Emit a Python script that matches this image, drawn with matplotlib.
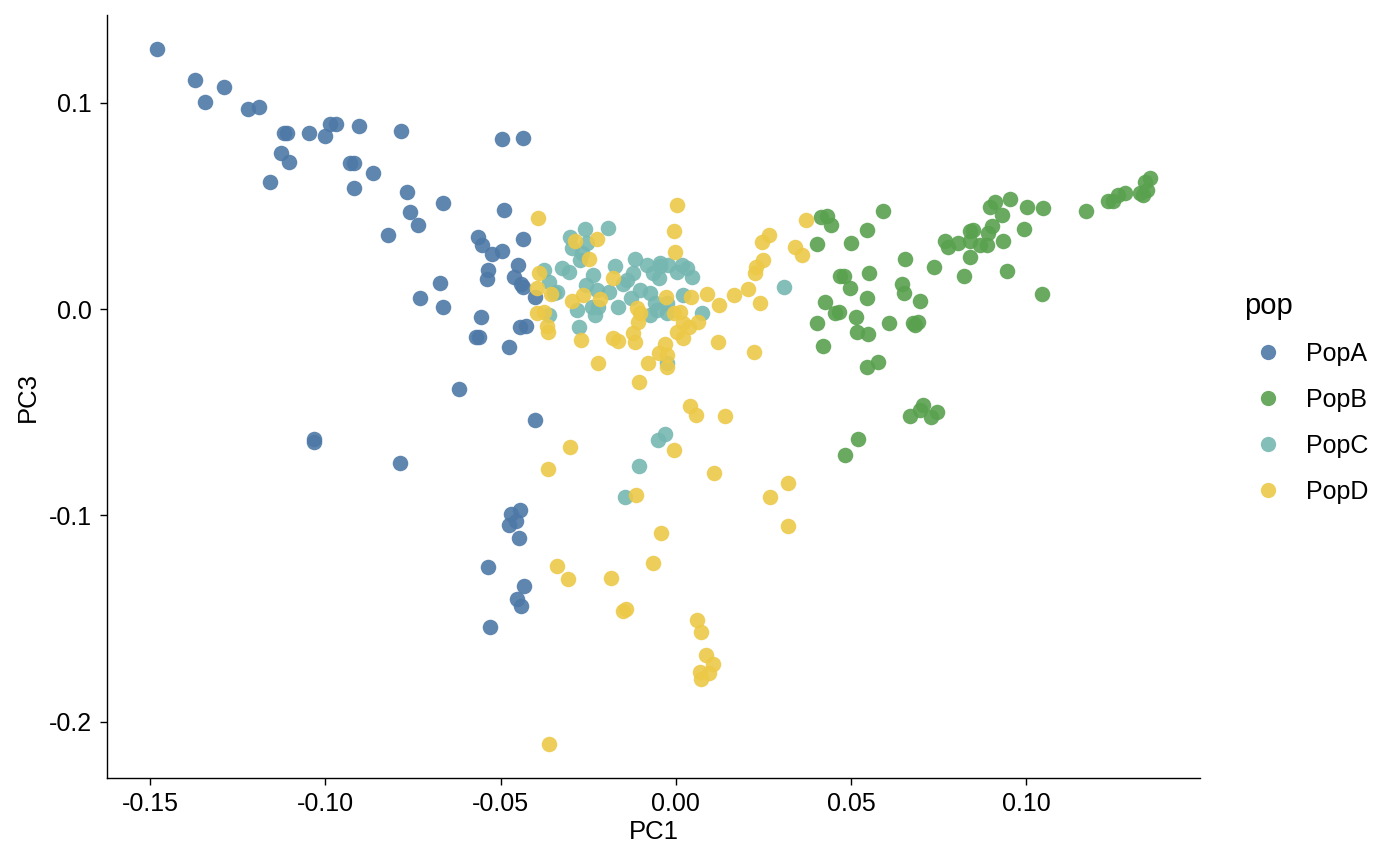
import matplotlib
matplotlib.use("Agg")
import matplotlib.pyplot as plt
from matplotlib.lines import Line2D

plt.rcParams['font.family'] = ['Liberation Sans', 'DejaVu Sans']

# PCA scores (PC1, PC3) per population
popA_pc1 = [-0.1480, -0.1372, -0.1344, -0.1289, -0.1221, -0.1189, -0.1118, -0.1110, -0.1047, -0.1001,
            -0.0987, -0.0970, -0.0904, -0.0784, -0.1127, -0.1104, -0.1159, -0.0930, -0.0918, -0.0864,
            -0.0918, -0.0768, -0.0759, -0.0736, -0.0822, -0.0665, -0.0496, -0.0436, -0.0491, -0.0565,
            -0.0553, -0.0525, -0.0496, -0.0436, -0.0537, -0.0539, -0.0450, -0.0462, -0.0436, -0.0402,
            -0.0442, -0.0673, -0.0730, -0.0665, -0.0556, -0.0570, -0.0562, -0.0445, -0.0428, -0.0477,
            -0.0619, -0.1032, -0.1032, -0.0787, -0.0402, -0.0445, -0.0471, -0.0456, -0.0477, -0.0448,
            -0.0537, -0.0434, -0.0453, -0.0442, -0.0531]
popA_pc3 = [0.1260, 0.1110, 0.1003, 0.1076, 0.0969, 0.0979, 0.0853, 0.0853, 0.0853, 0.0839,
            0.0897, 0.0897, 0.0887, 0.0863, 0.0756, 0.0713, 0.0616, 0.0708, 0.0708, 0.0659,
            0.0587, 0.0567, 0.0470, 0.0407, 0.0359, 0.0514, 0.0824, 0.0829, 0.0480, 0.0349,
            0.0310, 0.0267, 0.0281, 0.0339, 0.0189, 0.0145, 0.0213, 0.0155, 0.0107, 0.0058,
            0.0121, 0.0126, 0.0053, 0.0010, -0.0039, -0.0136, -0.0136, -0.0087, -0.0082, -0.0184,
            -0.0388, -0.0630, -0.0645, -0.0746, -0.0538, -0.0974, -0.0994, -0.1028, -0.1047, -0.1110,
            -0.1251, -0.1343, -0.1406, -0.1440, -0.1541]

popB_pc1 = [0.0414, 0.0431, 0.0442, 0.0403, 0.0499, 0.0545, 0.0591, 0.0468, 0.0479, 0.0550,
            0.0496, 0.0545, 0.0425, 0.0454, 0.0465, 0.0403, 0.0514, 0.0517, 0.0548, 0.0419,
            0.0607, 0.0645, 0.0650, 0.0653, 0.0696, 0.0676, 0.0691, 0.0681, 0.0736, 0.0767,
            0.0776, 0.0805, 0.0822, 0.0838, 0.0838, 0.0847, 0.0838, 0.0867, 0.0887, 0.0890,
            0.0901, 0.0895, 0.0909, 0.0930, 0.0933, 0.0952, 0.0944, 0.0993, 0.1001, 0.1047,
            0.1044, 0.1170, 0.1232, 0.1246, 0.1261, 0.1281, 0.1324, 0.1332, 0.1343, 0.1338,
            0.1352, 0.0577, 0.0545, 0.0705, 0.0696, 0.0667, 0.0727, 0.0745, 0.0519, 0.0482]
popB_pc3 = [0.0446, 0.0451, 0.0407, 0.0315, 0.0320, 0.0383, 0.0475, 0.0160, 0.0160, 0.0175,
            0.0102, 0.0053, 0.0034, -0.0019, -0.0015, -0.0068, -0.0039, -0.0111, -0.0121, -0.0179,
            -0.0068, 0.0121, 0.0078, 0.0242, 0.0039, -0.0068, -0.0063, -0.0078, 0.0204, 0.0330,
            0.0301, 0.0320, 0.0160, 0.0252, 0.0378, 0.0383, 0.0330, 0.0310, 0.0310, 0.0368,
            0.0402, 0.0494, 0.0519, 0.0456, 0.0330, 0.0533, 0.0184, 0.0388, 0.0494, 0.0490,
            0.0073, 0.0475, 0.0524, 0.0524, 0.0553, 0.0562, 0.0562, 0.0553, 0.0577, 0.0616,
            0.0635, -0.0257, -0.0281, -0.0465, -0.0490, -0.0519, -0.0524, -0.0499, -0.0630, -0.0708]

popC_pc1 = [-0.0303, -0.0260, -0.0194, -0.0254, -0.0297, -0.0274, -0.0325, -0.0305, -0.0377, -0.0363,
            -0.0339, -0.0363, -0.0282, -0.0276, -0.0257, -0.0237, -0.0225, -0.0191, -0.0174, -0.0151,
            -0.0231, -0.0222, -0.0165, -0.0129, -0.0123, -0.0117, -0.0083, -0.0066, -0.0048, -0.0045,
            -0.0023, 0.0003, 0.0031, 0.0045, -0.0103, -0.0074, -0.0059, -0.0074, -0.0026, -0.0026,
            0.0020, 0.0074, -0.0026, 0.0308, -0.0031, -0.0051, -0.0105, -0.0146, -0.0268, -0.0348,
            -0.0140, 0.0017, -0.0045, -0.0054, -0.0240]
popC_pc3 = [0.0349, 0.0388, 0.0393, 0.0320, 0.0296, 0.0238, 0.0199, 0.0179, 0.0189, 0.0131,
            0.0082, -0.0029, -0.0005, -0.0087, 0.0116, 0.0165, 0.0092, 0.0082, 0.0208, 0.0121,
            -0.0029, 0.0010, 0.0010, 0.0053, 0.0175, 0.0242, 0.0213, 0.0175, 0.0150, 0.0208,
            0.0213, 0.0179, 0.0199, 0.0155, 0.0092, 0.0078, 0.0029, -0.0029, 0.0029, -0.0019,
            0.0068, -0.0019, -0.0262, 0.0107, -0.0606, -0.0635, -0.0761, -0.0911, 0.0271, 0.0078,
            0.0141, 0.0213, 0.0223, -0.0005, 0.0010]

popD_pc1 = [-0.0393, -0.0288, -0.0225, -0.0248, -0.0391, -0.0357, -0.0396, -0.0396, -0.0377, -0.0368,
            -0.0365, -0.0271, -0.0222, -0.0180, -0.0265, -0.0217, -0.0297, -0.0180, -0.0165, -0.0123,
            -0.0117, -0.0108, -0.0103, -0.0105, -0.0080, -0.0048, -0.0031, -0.0026, -0.0026, -0.0006,
            0.0012, 0.0020, 0.0037, 0.0020, 0.0003, 0.0042, 0.0088, 0.0123, 0.0120, 0.0165,
            0.0205, 0.0003, -0.0006, -0.0002, -0.0029, 0.0063, 0.0371, 0.0265, 0.0245, 0.0340,
            0.0360, 0.0248, 0.0229, 0.0226, 0.0240, 0.0223, 0.0040, 0.0057, 0.0140, -0.0303,
            -0.0365, -0.0006, 0.0109, 0.0319, 0.0268, 0.0319, -0.0114, -0.0043, -0.0066, -0.0339,
            -0.0308, -0.0186, -0.0151, -0.0143, 0.0060, 0.0071, 0.0085, 0.0105, 0.0069, 0.0094,
            0.0071, -0.0363, -0.0111]
popD_pc3 = [0.0441, 0.0330, 0.0339, 0.0242, 0.0175, 0.0073, 0.0102, -0.0019, -0.0015, -0.0082,
            -0.0111, -0.0150, -0.0262, 0.0150, 0.0068, 0.0048, 0.0039, -0.0141, -0.0155, -0.0116,
            -0.0160, -0.0063, -0.0019, -0.0354, -0.0262, -0.0213, -0.0170, -0.0223, -0.0281, -0.0019,
            -0.0015, -0.0068, -0.0087, -0.0141, -0.0111, 0.0058, 0.0073, 0.0019, -0.0160, 0.0068,
            0.0097, 0.0504, 0.0378, 0.0276, 0.0058, -0.0063, 0.0431, 0.0359, 0.0325, 0.0301,
            0.0262, 0.0238, 0.0204, 0.0175, 0.0029, -0.0208, -0.0470, -0.0514, -0.0519, -0.0669,
            -0.0776, -0.0683, -0.0795, -0.0843, -0.0911, -0.1052, -0.0902, -0.1086, -0.1231, -0.1246,
            -0.1309, -0.1304, -0.1464, -0.1454, -0.1508, -0.1566, -0.1677, -0.1721, -0.1760, -0.1764,
            -0.1793, -0.2109, 0.0005]

pops = ["PopA", "PopB", "PopC", "PopD"]
colors = ["#4E79A7", "#59A14F", "#76B7B2", "#EDC948"]
x_ticks = [-0.15, -0.10, -0.05, 0.00, 0.05, 0.10]
y_ticks = [-0.2, -0.1, 0.0, 0.1]

fig = plt.figure(figsize=(14, 8.65), dpi=100)
ax = fig.add_axes([107 / 1400, 1 - 778 / 865, (1200 - 107) / 1400, (778 - 15) / 865])

series = [(popA_pc1, popA_pc3), (popB_pc1, popB_pc3), (popC_pc1, popC_pc3), (popD_pc1, popD_pc3)]
for (xs, ys), c in zip(series, colors):
    ax.scatter(xs, ys, s=125, color=c, alpha=0.9, linewidths=0, zorder=3)

ax.set_xlim(-0.1623, 0.1495)
ax.set_ylim(-0.2273, 0.1425)
ax.set_xticks(x_ticks)
ax.set_xticklabels([f"{v:.2f}".replace("-0.00", "0.00") for v in x_ticks])
ax.set_yticks(y_ticks)
ax.set_yticklabels([f"{v:.1f}" for v in y_ticks])

for side in ["top", "right"]:
    ax.spines[side].set_visible(False)
for side in ["left", "bottom"]:
    ax.spines[side].set_linewidth(1.0)
    ax.spines[side].set_color("black")
ax.tick_params(direction="out", length=5, width=1.0, color="black",
               labelsize=18, labelcolor="black", pad=5)
ax.tick_params(axis="y", pad=6)

ax.set_xlabel("PC1", fontsize=18.5, labelpad=3)
ax.set_ylabel("PC3", fontsize=18.5, labelpad=6)

handles = [Line2D([], [], marker="o", linestyle="", markersize=11, color=c, alpha=0.9,
                  markeredgewidth=0) for c in colors]
leg = fig.legend(handles, pops, title="pop", loc="upper left",
                 bbox_to_anchor=(1222 / 1400, 1 - 269 / 865), frameon=False,
                 fontsize=18, title_fontsize=21, labelspacing=0.88,
                 handletextpad=0.64, handlelength=1.84, alignment="left")

fig.savefig("out.png", dpi=100)
